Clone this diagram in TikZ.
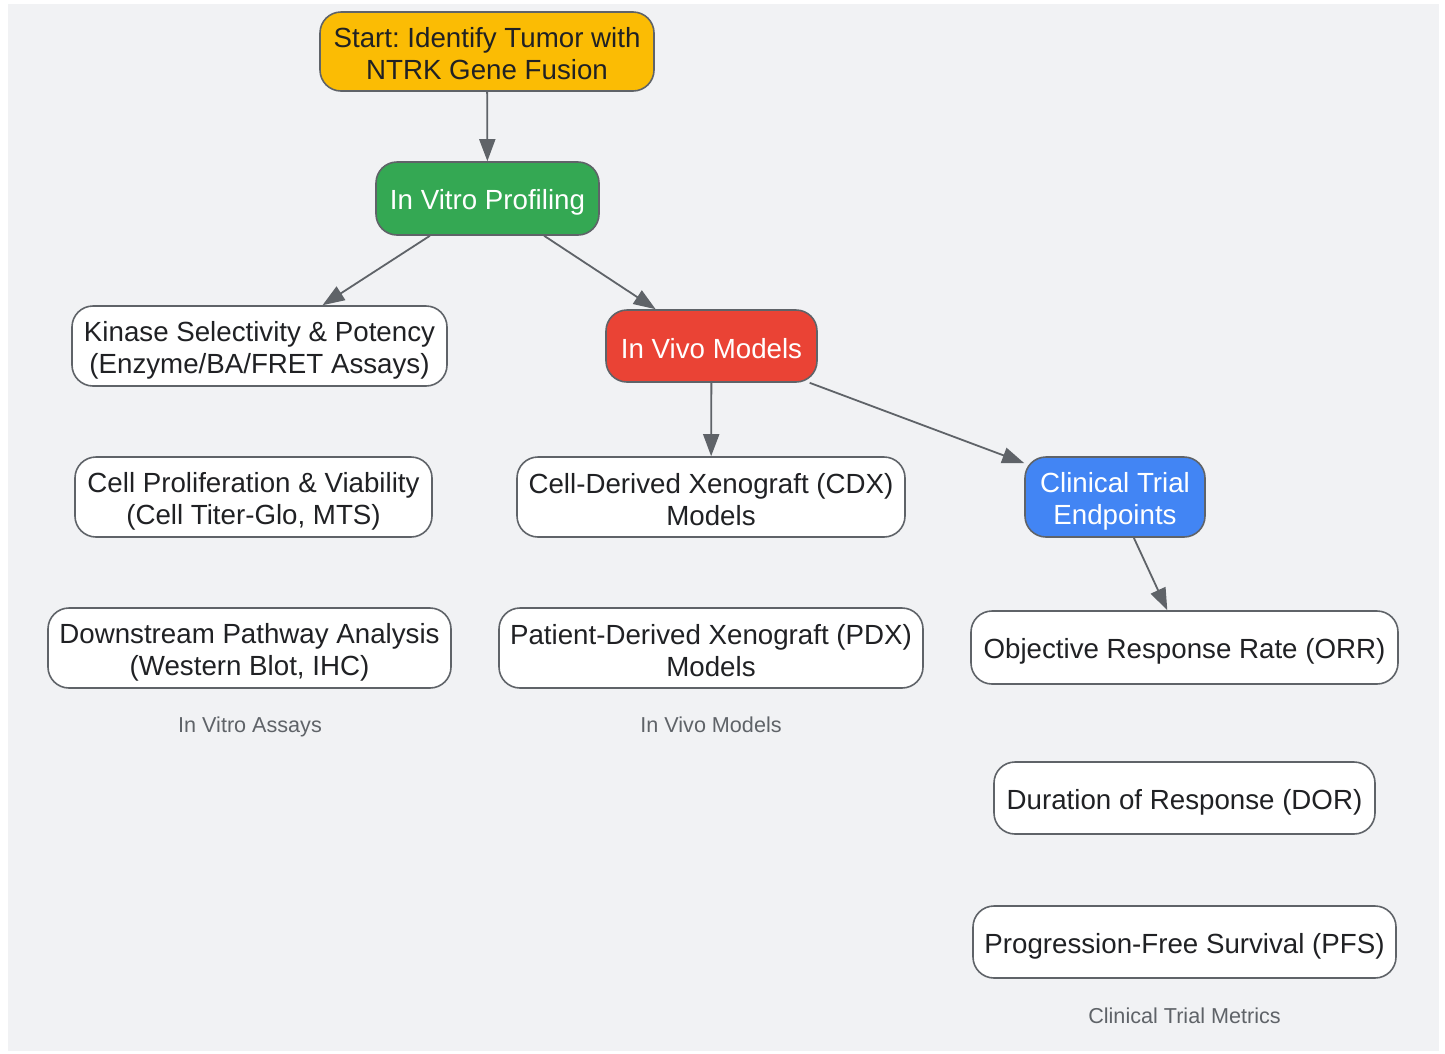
\documentclass[tikz,border=0pt]{standalone}
\usepackage{fontspec}
\setmainfont{Liberation Sans}
\frenchspacing
\usetikzlibrary{arrows.meta}
\definecolor{bg}{HTML}{F1F2F4}
\definecolor{edge}{HTML}{5F6368}
\definecolor{txt}{HTML}{202124}
\definecolor{cyellow}{HTML}{FBBC04}
\definecolor{cgreen}{HTML}{34A853}
\definecolor{cred}{HTML}{EA4335}
\definecolor{cblue}{HTML}{4285F4}
\newcommand\sx{\rule[-4pt]{0pt}{32pt}}
\newcommand\boxfont{\fontsize{27.7}{32}\selectfont\lineskiplimit=-30pt\relax}
\tikzset{
  box/.style={draw=edge, line width=1.6pt, rounded corners=21pt, fill=white,
    text=txt, inner sep=0pt, align=center, font=\boxfont},
  lbl/.style={text=edge, inner sep=0pt, anchor=base, font=\fontsize{21.6}{24}\selectfont},
  conn/.style={draw=edge, line width=1.8pt,
    -{Triangle[length=22pt,width=16pt]}},
}
\begin{document}
\begin{tikzpicture}[x=1pt,y=-1pt]
\useasboundingbox (0,0) rectangle (1445,1053);
\fill[white] (0,0) rectangle (1445,1053);
\fill[bg] (8,4) rectangle (1439,1051);

\node[box, fill=cyellow, minimum width=334pt, minimum height=79pt] (start) at (487,51.5)
  {\sx Start: Identify Tumor with\\\sx NTRK Gene Fusion};
\node[box, fill=cgreen, text=white, minimum width=223pt, minimum height=73pt] (vitro) at (487.5,198.5)
  {\sx In Vitro Profiling};
\node[box, minimum width=375pt, minimum height=80pt] (kinase) at (259.5,346)
  {\sx Kinase Selectivity \& Potency\\\sx (Enzyme/BA/FRET Assays)};
\node[box, fill=cred, text=white, minimum width=211pt, minimum height=72pt] (vivo) at (711.5,346)
  {\sx In Vivo Models};
\node[box, minimum width=357pt, minimum height=80pt] (prolif) at (253.5,497)
  {\sx Cell Proliferation \& Viability\\\sx (Cell Titer-Glo, MTS)};
\node[box, minimum width=388pt, minimum height=80pt] (cdx) at (711,497)
  {\sx Cell-Derived Xenograft (CDX)\\\sx Models};
\node[box, fill=cblue, text=white, minimum width=180pt, minimum height=80pt] (clin) at (1115,497)
  {\sx Clinical Trial\\\sx Endpoints};
\node[box, minimum width=403pt, minimum height=80pt] (down) at (249.5,648)
  {\sx Downstream Pathway Analysis\\\sx (Western Blot, IHC)};
\node[box, minimum width=424pt, minimum height=80pt] (pdx) at (711,648)
  {\sx Patient-Derived Xenograft (PDX)\\\sx Models};
\node[box, minimum width=427pt, minimum height=73pt] (orr) at (1184.5,647.5)
  {\sx Objective Response Rate (ORR)};
\node[box, minimum width=381pt, minimum height=72pt] (dor) at (1184.5,798)
  {\sx Duration of Response (DOR)};
\node[box, minimum width=423pt, minimum height=72pt] (pfs) at (1184.5,942)
  {\sx Progression-Free Survival (PFS)};

\node[lbl] (l1) at (250,732) {In Vitro Assays};
\node[lbl] (l2) at (711,732) {In Vivo Models};
\node[lbl] (l3) at (1184.5,1023) {Clinical Trial Metrics};

\draw[conn] (start) -- (vitro);
\draw[conn] (vitro) -- (kinase);
\draw[conn] (vitro) -- (vivo);
\draw[conn] (vivo) -- (cdx);
\draw[conn] (vivo) -- (clin);
\draw[conn] (clin) -- (orr);
\end{tikzpicture}
\end{document}
